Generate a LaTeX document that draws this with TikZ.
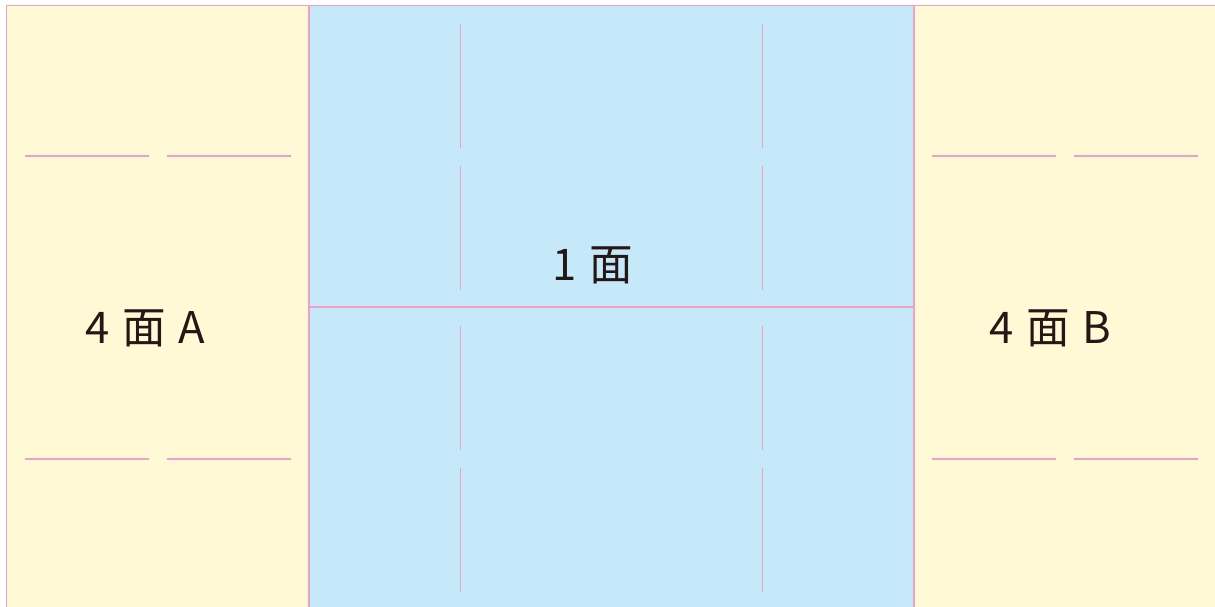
\documentclass[tikz,border=0pt]{standalone}
\usepackage{fontspec}
\setmainfont{Noto Sans CJK JP}
\definecolor{panelyellow}{RGB}{255,249,214}
\definecolor{panelblue}{RGB}{197,233,249}
\definecolor{foldpink}{RGB}{238,160,198}
\definecolor{inkblack}{RGB}{35,24,21}
\newcommand{\facegap}{\hspace{3.6pt}}
\tikzset{
  fold/.style={draw=foldpink,line width=0.35pt},
  edge/.style={draw=foldpink,line width=0.45pt},
  facelabel/.style={text=inkblack,font=\fontsize{12.4}{14}\selectfont,inner sep=0pt}
}
\begin{document}
\begin{tikzpicture}[x=0.01cm,y=-0.01cm]
  \useasboundingbox (0,0) rectangle (1215,607);
  % panels
  \fill[panelyellow] (6.5,5.5) rectangle (309,607);
  \fill[panelblue] (309,5.5) rectangle (914,607);
  \fill[panelyellow] (914,5.5) rectangle (1215,607);
  % outer edges and panel borders
  \draw[edge] (6.5,607) -- (6.5,5.5) -- (1215,5.5);
  \draw[edge] (309,5.5) -- (309,607);
  \draw[edge] (914,5.5) -- (914,607);
  \draw[fold] (309,307) -- (914,307);
  % side panel folds
  \foreach \y in {156,459} {
    \draw[fold] (25,\y)--(149,\y); \draw[fold] (167,\y)--(291,\y);
    \draw[fold] (932,\y)--(1056,\y); \draw[fold] (1074,\y)--(1198,\y);
  }
  % centre panel folds
  \foreach \x in {460.5,762.5} {
    \foreach \ya/\yb in {24/148,166/290,326/450,468/592}
      \draw[fold] (\x,\ya)--(\x,\yb);
  }
  \node[facelabel] (face1) at (593,265) {1\facegap 面};
  \node[facelabel] (face4a) at (145.5,328) {4\facegap 面\facegap A};
  \node[facelabel] (face4b) at (1050.5,328) {4\facegap 面\facegap B};
\end{tikzpicture}
\end{document}
